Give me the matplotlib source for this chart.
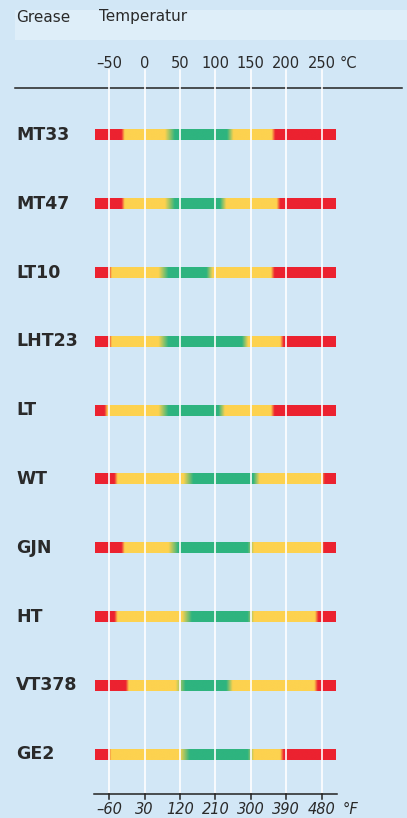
import numpy as np
import matplotlib
matplotlib.use("Agg")
import matplotlib.pyplot as plt
from matplotlib.colors import to_rgb

# ---------------- data ----------------
greases = ["MT33", "MT47", "LT10", "LHT23", "LT", "WT", "GJN", "HT", "VT378", "GE2"]
# transition temperatures (°C): red->yellow, yellow->green, green->yellow, yellow->red
red_to_yellow = [-30, -30, -48, -48, -54, -40, -30, -40, -24, -49]
yellow_to_green = [36, 36, 27, 27, 27, 62, 41, 60, 51, 57]
green_to_yellow = [121, 111, 92, 142, 109, 158, 150, 150, 120, 150]
yellow_to_red = [182, 189, 181, 194, 181, 252, 251, 243, 242, 194]
bar_start, bar_end = -69.5, 270
celsius_ticks = [-50, 0, 50, 100, 150, 200, 250]
celsius_labels = ["\u201350", "0", "50", "100", "150", "200", "250"]
fahrenheit_labels = ["\u201360", "30", "120", "210", "300", "390", "480"]

RED = np.array(to_rgb("#EC2230"))
YEL = np.array(to_rgb("#FDD24F"))
GRN = np.array(to_rgb("#2EB47F"))
BG = "#D2E7F6"
HEAD = "#DEEEF9"
TXT = "#2a2a2a"

W, H = 407, 818
fig = plt.figure(figsize=(W / 100, H / 100), dpi=100, facecolor=BG)
ax = fig.add_axes([0, 0, 1, 1])
ax.set_facecolor(BG)
# pixel mapping: x_px = 144.5 + 0.7087*T
sc, x0 = 0.7087, 144.5
ax.set_xlim((0 - x0) / sc, (W - x0) / sc)
ax.set_ylim(H, 0)
ax.axis("off")

def px2T(px):
    return (px - x0) / sc

# header band
ax.add_patch(plt.Rectangle((px2T(15), 10), px2T(W) - px2T(15), 30,
                           facecolor=HEAD, edgecolor="none", zorder=1))
fig.text(16 / W, 1 - 17 / H, "Grease", fontsize=11, color=TXT, va="center", ha="left",
         fontweight="medium")
fig.text(99 / W, 1 - 17 / H, "Temperatur", fontsize=11, color=TXT, va="center", ha="left",
         fontweight="medium")

# top black rule
ax.plot([px2T(15), px2T(402)], [87.5, 87.5], color="#222222", lw=1.1, zorder=3)

# celsius labels
for t, lab in zip(celsius_ticks, celsius_labels):
    ax.text(t, 63.5, lab, fontsize=10.5, color=TXT, ha="center", va="center", zorder=4)
ax.text(px2T(348), 63.5, "\u00b0C", fontsize=10.5, color=TXT, ha="center", va="center")

# bars
Tgrid = np.linspace(bar_start, bar_end, 1400)
row0, dy, bh = 135, 68.8, 11
for i, name in enumerate(greases):
    yc = row0 + i * dy
    col = np.tile(RED, (Tgrid.size, 1))
    seq = [(red_to_yellow[i], YEL, 4.5), (yellow_to_green[i], GRN, 14),
           (green_to_yellow[i], YEL, 9), (yellow_to_red[i], RED, 5)]
    for b, c, w in seq:
        t = np.clip((Tgrid - b) / w + 0.5, 0, 1)[:, None]
        col = col * (1 - t) + c * t
    img = col[None, :, :]
    ax.imshow(img, extent=[bar_start, bar_end, yc + bh / 2, yc - bh / 2],
              aspect="auto", interpolation="bilinear", zorder=2)
    ax.text(px2T(16), yc, name, fontsize=12.5, fontweight="bold", color=TXT,
            ha="left", va="center")

# white gridlines
for t in celsius_ticks:
    ax.plot([t, t], [70, 794], color="white", lw=1.2, zorder=3)

# bottom axis
ax.plot([px2T(94), px2T(337)], [794, 794], color="#222222", lw=1.1, zorder=4)
for t, lab in zip(celsius_ticks, fahrenheit_labels):
    ax.plot([t, t], [794, 798.5], color="#222222", lw=1.1, zorder=4)
    ax.text(t, 810, lab, fontsize=10.5, color=TXT, ha="center", va="center",
            style="italic")
ax.text(px2T(350), 810, "\u00b0F", fontsize=10.5, color=TXT, ha="center", va="center",
        style="italic")

fig.savefig("out.png", dpi=100, facecolor=BG)
